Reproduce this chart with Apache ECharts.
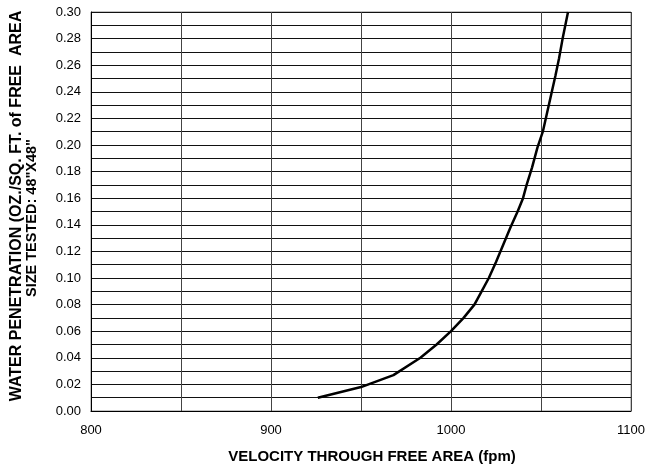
<!DOCTYPE html>
<html>
<head>
<meta charset="utf-8">
<script src="https://cdn.jsdelivr.net/npm/echarts@6/dist/echarts.min.js"></script>
<style>html,body{margin:0;padding:0;background:#fff}#c{width:648px;height:468px}</style>
</head>
<body>
<div id="c"></div>
<script>
const velocity = [926, 950, 968, 983, 992, 1000, 1007, 1013, 1017, 1021, 1025, 1029, 1033, 1037, 1040, 1042, 1045, 1048, 1051, 1053, 1055, 1056, 1058, 1060, 1062, 1065];
const penetration = [0.010, 0.018, 0.027, 0.040, 0.050, 0.060, 0.070, 0.080, 0.090, 0.100, 0.112, 0.125, 0.138, 0.150, 0.160, 0.170, 0.183, 0.198, 0.210, 0.222, 0.234, 0.240, 0.252, 0.265, 0.280, 0.300];
const xTitle = 'VELOCITY THROUGH FREE AREA (fpm)';
const yTitle1 = 'WATER PENETRATION (OZ./SQ. FT. of FREE  AREA';
const yTitle2 = 'SIZE TESTED: 48"X48"';

const font = 'Arial, "Liberation Sans", sans-serif';
const chart = echarts.init(document.getElementById('c'), null, {renderer: 'canvas'});
chart.setOption({
  animation: false,
  backgroundColor: '#fff',
  grid: {left: 91, right: 13, top: 12, bottom: 57, show: true, borderColor: '#888', borderWidth: 1},
  xAxis: {
    type: 'value', min: 800, max: 1100, interval: 50,
    axisLine: {show: true, lineStyle: {color: '#000', width: 1}},
    axisTick: {show: false},
    axisLabel: {
      color: '#000', fontFamily: font, fontSize: 13, margin: 13,
      formatter: v => (v % 100 === 0 ? String(v) : '')
    },
    splitLine: {show: true, lineStyle: {color: '#444', width: 1}}
  },
  yAxis: {
    type: 'value', min: 0, max: 0.3, interval: 0.01,
    axisLine: {show: true, lineStyle: {color: '#000', width: 1}},
    axisTick: {show: false},
    axisLabel: {
      color: '#000', fontFamily: font, fontSize: 13, margin: 10,
      formatter: v => {
        const k = Math.round(v * 100);
        return k % 2 === 0 ? (k / 100).toFixed(2) : '';
      }
    },
    splitLine: {show: true, lineStyle: {color: '#111', width: 1}}
  },
  series: [{
    type: 'line',
    data: velocity.map((x, i) => [x, penetration[i]]),
    showSymbol: false,
    symbol: 'none',
    smooth: false,
    lineStyle: {color: '#000', width: 2.5}
  }],
  graphic: [
    {type: 'text', x: 372, y: 457, style: {text: xTitle, font: 'bold 15px ' + font, fill: '#000', textAlign: 'center', textVerticalAlign: 'middle'}},
    {type: 'text', x: 17, y: 206, rotation: Math.PI / 2, style: {text: yTitle1, font: 'bold 16px ' + font, fill: '#000', textAlign: 'center', textVerticalAlign: 'middle'}},
    {type: 'text', x: 32, y: 218, rotation: Math.PI / 2, style: {text: yTitle2, font: 'bold 14.5px ' + font, fill: '#000', textAlign: 'center', textVerticalAlign: 'middle'}}
  ]
});
</script>
</body>
</html>
